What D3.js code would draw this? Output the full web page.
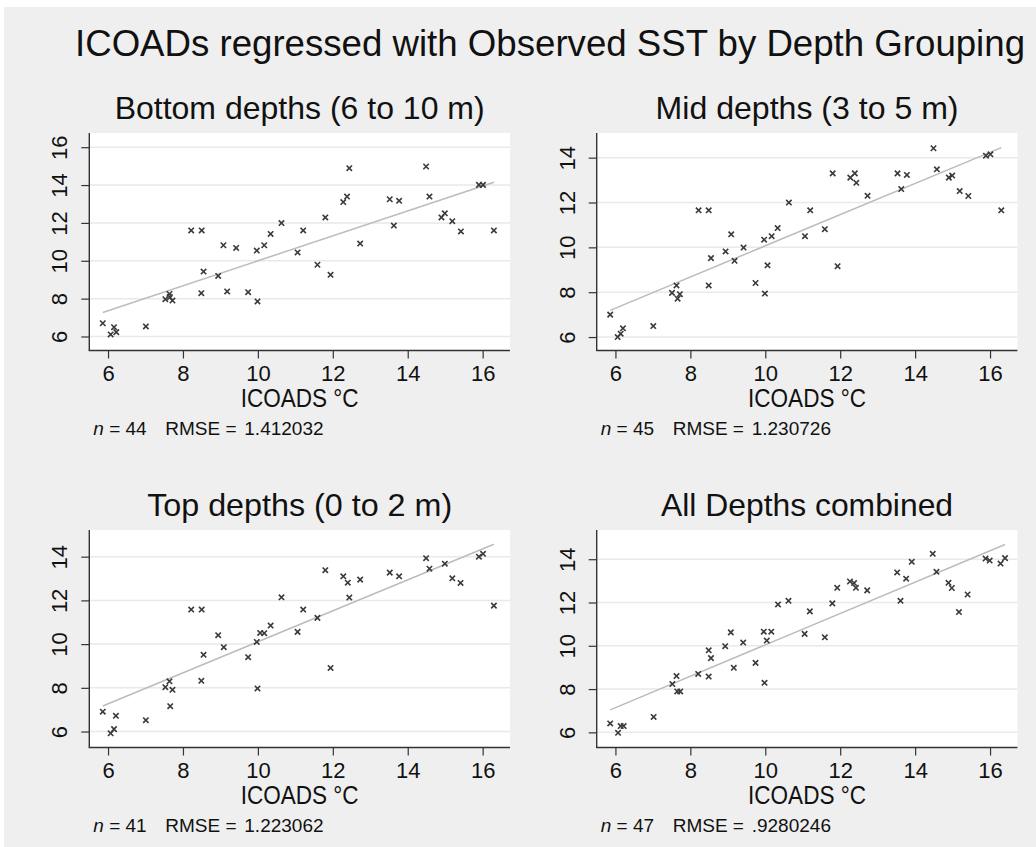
<!DOCTYPE html>
<html>
<head>
<meta charset="utf-8">
<script src="https://cdn.jsdelivr.net/npm/d3@7"></script>
<style>
body{margin:0;background:#fff;}
text{font-family:"Liberation Sans",Arial,sans-serif;fill:#111;}
</style>
</head>
<body>
<div id="chart"></div>
<script>
// titles
var mainTitle = "ICOADs regressed with Observed SST by Depth Grouping";
var panelTitles = ["Bottom depths (6 to 10 m)", "Mid depths (3 to 5 m)", "Top depths (0 to 2 m)", "All Depths combined"];
var nText = ["44", "45", "41", "47"];
var rmseText = ["1.412032", "1.230726", "1.223062", ".9280246"];
var xTicks = [6, 8, 10, 12, 14, 16];
var yTicksBottom = [6, 8, 10, 12, 14, 16];
var yTicksOther = [6, 8, 10, 12, 14];

// bottom depths (6 to 10 m)
var bottomX = [5.86,6.07,6.16,6.22,7.01,7.53,7.64,7.65,7.72,8.22,8.50,8.49,8.55,8.94,9.08,9.18,9.42,9.74,9.97,9.99,10.17,10.34,10.63,11.06,11.21,11.59,11.80,11.94,12.28,12.38,12.44,12.73,13.52,13.63,13.77,14.49,14.58,14.90,14.99,15.19,15.42,15.90,16.01,16.30];
var bottomY = [6.70,6.11,6.49,6.23,6.53,7.97,8.25,8.08,7.90,11.60,11.60,8.29,9.43,9.20,10.82,8.38,10.68,8.34,10.54,7.85,10.82,11.42,11.99,10.44,11.60,9.79,12.29,9.26,13.10,13.39,14.89,10.91,13.25,11.86,13.17,14.98,13.39,12.29,12.51,12.09,11.55,14.01,14.01,11.60];
var bottomFit = [[5.86, 7.27], [16.30, 14.15]];

// mid depths (3 to 5 m)
var midX = [5.86,6.06,6.14,6.20,7.01,7.51,7.63,7.66,7.72,8.22,8.49,8.49,8.55,8.94,9.09,9.18,9.42,9.74,9.97,9.99,10.06,10.17,10.33,10.63,11.06,11.20,11.59,11.80,11.93,12.27,12.39,12.43,12.73,13.53,13.63,13.78,14.49,14.58,14.90,14.99,15.19,15.42,15.89,16.01,16.30];
var midY = [7.00,6.00,6.15,6.39,6.49,7.97,8.30,7.71,7.91,11.65,11.65,8.30,9.52,9.82,10.58,9.40,9.99,8.41,10.34,7.94,9.20,10.50,10.86,12.00,10.50,11.65,10.81,13.30,9.16,13.11,13.30,12.88,12.30,13.30,12.60,13.23,14.42,13.48,13.11,13.20,12.51,12.29,14.09,14.15,11.65];
var midFit = [[5.86, 7.19], [16.30, 14.45]];

// top depths (0 to 2 m)
var topX = [5.86,6.07,6.16,6.21,7.01,7.53,7.64,7.66,7.72,8.22,8.50,8.49,8.55,8.94,9.09,9.74,9.97,9.99,10.06,10.17,10.34,10.63,11.06,11.21,11.59,11.80,11.94,12.28,12.40,12.44,12.73,13.52,13.77,14.49,14.58,14.99,15.19,15.41,15.90,16.01,16.30];
var topY = [6.91,5.92,6.11,6.72,6.52,8.03,8.30,7.16,7.91,11.58,11.58,8.32,9.51,10.41,9.86,9.40,10.10,7.97,10.51,10.50,10.85,12.14,10.56,11.58,11.20,13.38,8.91,13.10,12.81,12.13,12.95,13.27,13.10,13.93,13.45,13.68,13.01,12.80,14.00,14.13,11.76];
var topFit = [[5.86, 7.17], [16.30, 14.57]];

// all depths combined
var allX = [5.86,6.07,6.14,6.22,7.02,7.52,7.63,7.65,7.73,8.21,8.49,8.49,8.55,8.93,9.08,9.16,9.41,9.74,9.96,9.98,10.04,10.16,10.34,10.62,11.05,11.19,11.59,11.79,11.92,12.26,12.37,12.42,12.72,13.52,13.61,13.76,13.91,14.47,14.57,14.89,14.98,15.17,15.40,15.88,15.99,16.28,16.40];
var allY = [6.41,5.98,6.29,6.29,6.71,8.23,8.60,7.89,7.89,8.70,9.79,8.58,9.43,9.98,10.62,8.98,10.15,9.21,10.65,8.29,10.24,10.65,11.91,12.08,10.55,11.59,10.39,11.96,12.68,12.97,12.90,12.68,12.56,13.39,12.08,13.10,13.88,14.25,13.42,12.91,12.67,11.56,12.37,14.03,13.94,13.80,14.05];
var allFit = [[5.86, 7.04], [16.40, 14.68]];

var panels = [
  {title: panelTitles[0], xs: bottomX, ys: bottomY, fit: bottomFit, yDom: [5.26, 16.75], yTicks: yTicksBottom, n: nText[0], rmse: rmseText[0], col: 0, row: 0, tw: 370},
  {title: panelTitles[1], xs: midX, ys: midY, fit: midFit, yDom: [5.4, 15.1], yTicks: yTicksOther, n: nText[1], rmse: rmseText[1], col: 1, row: 0, tw: 303},
  {title: panelTitles[2], xs: topX, ys: topY, fit: topFit, yDom: [5.27, 15.22], yTicks: yTicksOther, n: nText[2], rmse: rmseText[2], col: 0, row: 1, tw: 305},
  {title: panelTitles[3], xs: allX, ys: allY, fit: allFit, yDom: [5.3, 15.35], yTicks: yTicksOther, n: nText[3], rmse: rmseText[3], col: 1, row: 1, tw: 292}
];

var W = 1036, H = 847;
var colLeft = [89.3, 596.7], plotW = 420.7;
var rowTop = [133, 530], plotH = 217.5;

var svg = d3.select("#chart").append("svg").attr("width", W).attr("height", H);
svg.append("rect").attr("x", 4).attr("y", 7).attr("width", W - 4).attr("height", H - 7).attr("fill", "#efefef");

svg.append("text")
  .attr("x", 550).attr("y", 56)
  .attr("text-anchor", "middle")
  .attr("font-size", 36)
  .attr("textLength", 950).attr("lengthAdjust", "spacingAndGlyphs")
  .text(mainTitle);

panels.forEach(function (p) {
  var L = colLeft[p.col], T = rowTop[p.row];
  var g = svg.append("g").attr("transform", "translate(" + L + "," + T + ")");

  var x = d3.scaleLinear().domain([5.5, 16.73]).range([0, plotW]);
  var y = d3.scaleLinear().domain(p.yDom).range([plotH, 0]);

  g.append("rect").attr("width", plotW).attr("height", plotH).attr("fill", "#fff");

  // grid
  g.selectAll(".grid").data(p.yTicks).enter().append("line")
    .attr("x1", 0).attr("x2", plotW)
    .attr("y1", function (d) { return y(d); }).attr("y2", function (d) { return y(d); })
    .attr("stroke", "#e9e9e9").attr("stroke-width", 1.5);

  // fit line
  g.append("line")
    .attr("x1", x(p.fit[0][0])).attr("y1", y(p.fit[0][1]))
    .attr("x2", x(p.fit[1][0])).attr("y2", y(p.fit[1][1]))
    .attr("stroke", "#bcbcbc").attr("stroke-width", 1.5);

  // markers
  var pts = p.xs.map(function (v, i) { return [v, p.ys[i]]; });
  var s = 2.7;
  g.selectAll(".pt").data(pts).enter().append("path")
    .attr("d", function (d) {
      var cx = x(d[0]), cy = y(d[1]);
      return "M" + (cx - s) + "," + (cy - s) + "L" + (cx + s) + "," + (cy + s) +
             "M" + (cx - s) + "," + (cy + s) + "L" + (cx + s) + "," + (cy - s);
    })
    .attr("stroke", "#3a3a3a").attr("stroke-width", 1.6).attr("fill", "none");

  // axes
  var ya = g.append("g").call(d3.axisLeft(y).tickValues(p.yTicks).tickSize(8).tickFormat(d3.format("d")));
  ya.select(".domain").attr("d", "M0," + (plotH + 0.5) + "V0").attr("stroke", "#333").attr("stroke-width", 1.4);
  ya.selectAll(".tick line").attr("stroke", "#333").attr("stroke-width", 1.2);
  ya.selectAll(".tick text")
    .attr("x", 0).attr("y", -22).attr("dy", 0)
    .attr("text-anchor", "middle")
    .attr("transform", "rotate(-90)")
    .attr("font-size", 22).attr("font-family", "Liberation Sans, Arial, sans-serif").attr("fill", "#111");

  var xa = g.append("g").attr("transform", "translate(0," + plotH + ")")
    .call(d3.axisBottom(x).tickValues(xTicks).tickSize(8).tickFormat(d3.format("d")));
  xa.select(".domain").attr("d", "M-0.5,0H" + plotW).attr("stroke", "#333").attr("stroke-width", 1.4);
  xa.selectAll(".tick line").attr("stroke", "#333").attr("stroke-width", 1.2);
  xa.selectAll(".tick text")
    .attr("y", 30).attr("dy", 0)
    .attr("font-size", 22).attr("font-family", "Liberation Sans, Arial, sans-serif").attr("fill", "#111");

  // subtitle
  g.append("text")
    .attr("x", plotW / 2).attr("y", -14)
    .attr("text-anchor", "middle").attr("font-size", 32)
    .attr("textLength", p.tw).attr("lengthAdjust", "spacingAndGlyphs")
    .text(p.title);

  // x axis title
  g.append("text")
    .attr("x", plotW / 2).attr("y", plotH + 56)
    .attr("text-anchor", "middle").attr("font-size", 25)
    .attr("textLength", 118).attr("lengthAdjust", "spacingAndGlyphs")
    .text("ICOADS \u00B0C");

  // note
  var note = g.append("text").attr("y", plotH + 84).attr("font-size", 19);
  note.append("tspan").attr("x", 4).attr("font-style", "italic").text("n");
  note.append("tspan").text(" = " + p.n);
  g.append("text").attr("x", 76).attr("y", plotH + 84).attr("font-size", 19).text("RMSE =");
  g.append("text").attr("x", 155).attr("y", plotH + 84).attr("font-size", 19).text(p.rmse);
});
</script>
</body>
</html>
